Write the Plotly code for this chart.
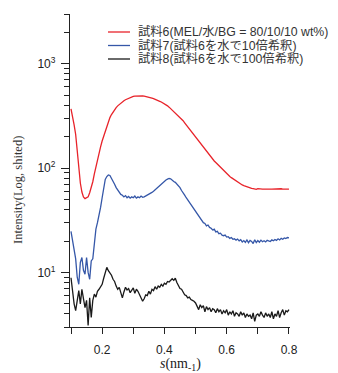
import plotly.graph_objects as go

s = [0.100, 0.105, 0.110, 0.115, 0.120, 0.125, 0.130, 0.135, 0.140, 0.145,
     0.150, 0.155, 0.160, 0.165, 0.170, 0.175, 0.180, 0.185, 0.190, 0.195,
     0.200, 0.205, 0.210, 0.215, 0.220, 0.225, 0.230, 0.235, 0.240, 0.245,
     0.250, 0.255, 0.260, 0.265, 0.270, 0.275, 0.280, 0.285, 0.290, 0.295,
     0.300, 0.305, 0.310, 0.315, 0.320, 0.325, 0.330, 0.335, 0.340, 0.345,
     0.350, 0.355, 0.360, 0.365, 0.370, 0.375, 0.380, 0.385, 0.390, 0.395,
     0.400, 0.405, 0.410, 0.415, 0.420, 0.425, 0.430, 0.435, 0.440, 0.445,
     0.450, 0.455, 0.460, 0.465, 0.470, 0.475, 0.480, 0.485, 0.490, 0.495,
     0.500, 0.505, 0.510, 0.515, 0.520, 0.525, 0.530, 0.535, 0.540, 0.545,
     0.550, 0.555, 0.560, 0.565, 0.570, 0.575, 0.580, 0.585, 0.590, 0.595,
     0.600, 0.605, 0.610, 0.615, 0.620, 0.625, 0.630, 0.635, 0.640, 0.645,
     0.650, 0.655, 0.660, 0.665, 0.670, 0.675, 0.680, 0.685, 0.690, 0.695,
     0.700, 0.705, 0.710, 0.715, 0.720, 0.725, 0.730, 0.735, 0.740, 0.745,
     0.750, 0.755, 0.760, 0.765, 0.770, 0.775, 0.780, 0.785, 0.790, 0.795,
     0.800]

sample6 = [370, 320, 260, 210, 140, 100, 72, 59, 53, 51,
           52, 53, 58, 64, 74, 88, 104, 124, 142, 160,
           182, 202, 228, 252, 280, 305, 326, 345, 362, 380,
           395, 408, 420, 432, 443, 452, 460, 468, 475, 481,
           486, 489, 491, 492, 493, 492, 491, 490, 487, 484,
           479, 474, 468, 463, 458, 452, 445, 437, 430, 422,
           413, 404, 395, 384, 372, 361, 350, 338, 326, 315,
           305, 295, 285, 272, 260, 250, 240, 230, 221, 211,
           202, 192, 181, 172, 164, 157, 150, 143, 137, 131,
           126, 121, 117, 113, 109, 105, 101, 98, 95, 92,
           89, 86, 83, 81, 79, 77, 75, 73, 71.5, 70,
           69, 68, 67, 66, 65, 64.5, 64, 63.5, 63, 62.5,
           63.5, 63, 62.5, 63, 62.8, 63, 62.7, 63.5, 63, 62.8,
           63, 62.7, 63, 63.2, 62.9, 63.4, 63, 63.1, 62.9, 63,
           63]

sample7 = [24.7, 20, 16, 13.5, 9, 7.7, 12.5, 13.9, 10.5, 9.6,
           13.9, 10, 8.6, 12.9, 13.5, 20, 26, 30, 35, 42,
           52, 66, 78, 83, 86, 85, 80, 76, 70, 65,
           62, 58, 56, 55, 53, 54.5, 52, 53.5, 51.5, 53,
           52, 54, 51.5, 53, 52, 54, 52.5, 53, 54, 54.5,
           55.5, 57, 58.5, 60, 62, 64, 66, 68.5, 71, 73,
           75, 77, 78.5, 79.5, 79, 76, 74.5, 73, 70.5, 68,
           65, 61, 57, 55, 52, 49.5, 47, 44, 42, 40,
           38, 36.5, 34.5, 33, 31.5, 30, 29.5, 28, 28.5, 27,
           26.5, 25.5, 26, 24.5, 24.8, 23.5, 23.8, 22.8, 22.5, 22.8,
           21.8, 22, 21.2, 21.6, 20.8, 21, 20.4, 20.9, 20.1, 20.6,
           19.6, 20.2, 19.4, 20.5, 19.3, 20.3, 19.8, 18.9, 20.6, 19.3,
           20.2, 19.5, 20.4, 19.7, 20.1, 19.6, 20.3, 20, 19.8, 20.5,
           20.1, 20.7, 20.3, 21, 20.5, 21.2, 20.8, 21.4, 21.1, 21.6,
           21.4]

sample8 = [8.9, 6.2, 5.0, 4.3, 5.5, 6.7, 5.0, 6.9, 5.6, 4.6,
           5.4, 3.1, 5.7, 3.7, 5.4, 6.2, 5.8, 6.6, 6.9, 7.4,
           7.7, 8.8, 10.2, 11.2, 10.4, 10.0, 9.4, 8.6, 8.2, 7.4,
           6.9, 7.2, 6.2, 5.7, 6.5, 7.2, 6.8, 7.0, 6.4, 6.7,
           7.1, 6.3, 6.9, 6.6, 6.1, 5.8, 5.3, 5.6, 6.1, 6.0,
           6.6, 6.2, 6.9, 6.7, 7.3, 6.9, 7.4, 7.2, 7.7, 7.4,
           7.9, 7.7, 8.2, 8.1, 8.5, 8.7, 8.4, 8.8, 8.0, 7.4,
           7.0, 6.9, 6.4, 6.1, 6.0, 5.7, 5.8, 5.5, 5.4, 5.3,
           5.1, 4.8, 4.4, 4.9, 4.6, 4.8, 4.2, 4.7, 4.4, 4.6,
           4.2, 4.5, 4.4, 4.1, 4.5, 4.2, 4.4, 4.0, 4.3, 4.1,
           4.4, 3.9, 4.2, 4.0, 4.3, 3.8, 4.1, 4.0, 3.8, 4.2,
           3.9, 4.1, 3.7, 4.0, 3.8, 3.9, 3.6, 4.1, 3.4, 3.9,
           4.0, 3.8, 4.2, 3.9, 3.7, 4.1, 3.8, 4.0, 3.7, 4.2,
           3.6, 4.0, 3.8, 4.3, 3.7, 4.1, 4.4, 3.9, 4.3, 4.2,
           4.4]

series_names = ["試料6(MEL/水/BG = 80/10/10 wt%)",
                "試料7(試料6を水で10倍希釈)",
                "試料8(試料6を水で100倍希釈)"]
series_colors = ["#e8232a", "#3557a8", "#1a1a1a"]

y_major = [10, 100, 1000]
y_major_text = ["10<sup>1</sup>", "10<sup>2</sup>", "10<sup>3</sup>"]
y_minor = [3, 4, 5, 6, 7, 8, 9, 20, 30, 40, 50, 60, 70, 80, 90,
           200, 300, 400, 500, 600, 700, 800, 900, 2000, 3000]
x_major = [0.2, 0.4, 0.6, 0.8]
x_minor = [0.1, 0.3, 0.5, 0.7]

fig = go.Figure()
for name, vals, col in zip(series_names, [sample6, sample7, sample8], series_colors):
    fig.add_trace(go.Scatter(x=s, y=vals, mode="lines", name=name,
                             line=dict(color=col, width=1.3), showlegend=False))

# The page body has an 8px default margin, so the figure is offset by 8px.
OFF = 8
W, H = 338 - OFF, 373 - OFF
L, R, T, B = 70 - OFF, 290 - OFF, 14 - OFF, 327 - OFF


def px(xp):  # page pixel -> paper x
    return (xp - OFF - L) / (R - L)


def py(yp):  # page pixel -> paper y
    return (B - (yp - OFF)) / (B - T)


legend_rows = [32, 45.5, 59]
for name, col, yr in zip(series_names, series_colors, legend_rows):
    fig.add_shape(type="line", xref="paper", yref="paper",
                  x0=px(108), x1=px(130), y0=py(yr), y1=py(yr),
                  line=dict(color=col, width=1.3))
    fig.add_annotation(xref="paper", yref="paper", x=px(136), y=py(yr),
                       xanchor="left", yanchor="middle", showarrow=False,
                       text=name,
                       font=dict(family="Liberation Sans, Noto Sans CJK JP",
                                 size=12.3, color="#333333"))

fig.add_annotation(xref="paper", yref="paper", x=px(18), y=py(190),
                   xanchor="center", yanchor="middle", showarrow=False,
                   textangle=-90, text="Intensity(Log, shited)",
                   font=dict(family="Liberation Serif", size=12.5, color="#333333"))

fig.add_annotation(xref="paper", yref="paper", x=px(180), y=py(364),
                   xanchor="center", yanchor="middle", showarrow=False,
                   text="<i>s</i>(nm<sub>-1</sub>)",
                   font=dict(family="Liberation Serif", size=14, color="#222222"))

fig.update_layout(
    width=W, height=H,
    margin=dict(l=L, r=W - R, t=T, b=H - B, autoexpand=False),
    paper_bgcolor="white", plot_bgcolor="white",
    font=dict(family="Liberation Sans", size=12, color="#222222"),
    xaxis=dict(range=[0.0968, 0.8033], showgrid=False, zeroline=False,
               automargin=False,
               showline=True, linecolor="#222222", linewidth=1.3,
               ticks="outside", ticklen=6, tickwidth=1.2, tickcolor="#222222",
               ticklabelstandoff=5,
               tickvals=x_major, ticktext=[f"{v:.1f}" for v in x_major],
               minor=dict(tickvals=x_minor, ticks="outside", ticklen=6,
                          tickwidth=1.2, tickcolor="#222222", showgrid=False)),
    yaxis=dict(type="log", range=[0.4771, 3.4771], showgrid=False, zeroline=False,
               automargin=False,
               showline=True, linecolor="#222222", linewidth=1.3,
               ticks="outside", ticklen=8, tickwidth=1.2, tickcolor="#222222",
               ticklabelstandoff=3,
               tickvals=y_major, ticktext=y_major_text,
               minor=dict(tickvals=y_minor, ticks="outside", ticklen=5,
                          tickwidth=1.2, tickcolor="#222222", showgrid=False)),
)

fig.write_html("out.html")
